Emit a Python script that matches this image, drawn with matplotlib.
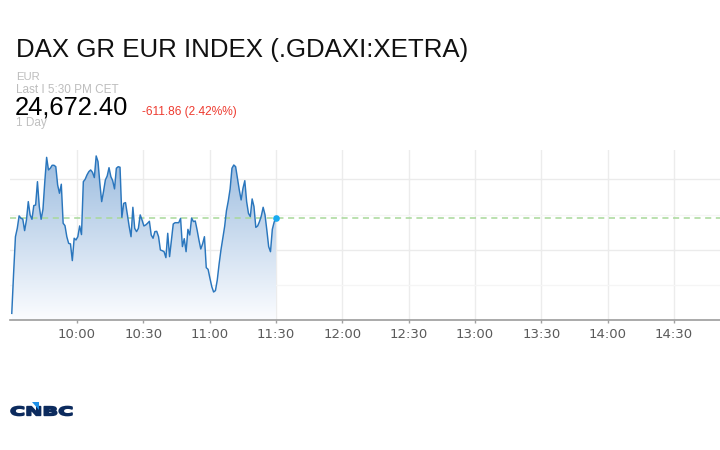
import numpy as np
import matplotlib
matplotlib.use("Agg")
import matplotlib.pyplot as plt
from matplotlib.textpath import TextPath
from matplotlib.patches import PathPatch, Polygon
from matplotlib.font_manager import FontProperties
from matplotlib.transforms import Affine2D
from matplotlib.path import Path

# ---------------- data ----------------
title = "DAX GR EUR INDEX (.GDAXI:XETRA)"
currency = "EUR"
last_label = "Last I 5:30 PM CET"
last_price = 24672.40
change_text = "-611.86 (2.42%%)"
range_label = "1 Day"

start_time = "09:30"
end_time = "11:30"
values = [24605.2, 24633.5, 24659.4, 24665.3, 24674.1, 24672.4, 24671.9, 24663.7, 24671.2, 24684.2,
          24674.8, 24671.7, 24681.4, 24681.8, 24698.3, 24680.7, 24671.7, 24678.8, 24698.3, 24715.5,
          24706.6, 24707.8, 24709.9, 24709.9, 24708.9, 24696.0, 24690.1, 24696.5, 24668.9, 24667.2,
          24659.4, 24654.7, 24654.3, 24642.5, 24658.3, 24657.1, 24659.4, 24667.0, 24660.9, 24698.3,
          24700.0, 24703.1, 24705.4, 24706.6, 24704.9, 24701.2, 24716.5, 24712.5, 24697.2, 24684.2,
          24691.3, 24699.5, 24702.3, 24708.2, 24701.9, 24699.0, 24693.2, 24707.8, 24708.9, 24708.5,
          24673.1, 24683.0, 24683.5, 24674.8, 24666.5, 24659.4, 24680.2, 24665.3, 24663.0, 24665.3,
          24674.8, 24671.2, 24667.0, 24667.7, 24668.9, 24670.3, 24660.6, 24658.3, 24663.0, 24663.2,
          24659.4, 24650.0, 24649.5, 24648.8, 24644.6, 24661.8, 24645.3, 24657.1, 24668.4, 24669.3,
          24669.3, 24669.3, 24672.4, 24652.4, 24658.0, 24648.8, 24664.6, 24660.6, 24672.6, 24670.1,
          24670.5, 24664.2, 24657.1, 24650.7, 24654.3, 24659.4, 24637.5, 24636.3, 24630.0, 24624.1,
          24620.3, 24621.3, 24628.8, 24640.1, 24650.0, 24658.3, 24666.5, 24677.8, 24684.7, 24693.2,
          24707.8, 24710.1, 24708.9, 24700.7, 24692.4, 24685.4, 24693.6, 24699.0, 24684.2, 24675.9,
          24673.6, 24686.1, 24680.7, 24666.0, 24667.0, 24670.1, 24674.1, 24680.2, 24675.0, 24664.2,
          24652.4, 24648.8, 24664.6, 24669.8, 24672.4]
tick_labels = ["10:00", "10:30", "11:00", "11:30", "12:00", "12:30",
               "13:00", "13:30", "14:00", "14:30", "15:00"]
major_levels = [24650, 24700]
minor_levels = [24625, 24675]


def to_min(s):
    h, m = s.split(":")
    return int(h) * 60 + int(m)


origin = to_min(start_time)
t_end = to_min(end_time) - origin
times = np.linspace(0.5, t_end, len(values))
tick_pos = [to_min(s) - origin for s in tick_labels]

# ---------------- figure ----------------
W, H = 720, 450
fig = plt.figure(figsize=(W / 100, H / 100), dpi=100)
fig.patch.set_facecolor("white")


def fx(px):
    return px / W


def fy(py):
    return 1 - py / H


ax = fig.add_axes([fx(10), fy(320), 750 / W, 170 / H])
ymin, ymax = 24600.5, 24720.7
xmin, xmax = -0.3, 338.9

# gridlines
ax.set_yticks(major_levels)
ax.set_yticks(minor_levels, minor=True)
ax.grid(axis="y", which="major", color="#ebebeb", lw=1.0)
ax.grid(axis="y", which="minor", color="#f5f5f5", lw=1.0)
ax.set_xticks(tick_pos)
ax.set_xticklabels(tick_labels)
ax.grid(axis="x", which="major", color="#ececec", lw=1.0)
ax.set_axisbelow(True)
ax.tick_params(axis="y", which="both", left=False, labelleft=False)
ax.tick_params(axis="x", which="major", direction="out", length=2.5, width=1,
               color="#a0a0a0", pad=3.5, labelsize=9.5, labelcolor="#5a5a5a")
for s in ["top", "left", "right"]:
    ax.spines[s].set_visible(False)
ax.spines["bottom"].set_color("#9c9c9c")
ax.spines["bottom"].set_linewidth(1.2)
for lab in ax.get_xticklabels():
    lab.set_fontfamily("DejaVu Sans")

# gradient fill under line
poly = ax.fill_between(times, values, ymin, facecolor="none", edgecolor="none")
clip = PathPatch(poly.get_paths()[0], transform=ax.transData, facecolor="none", edgecolor="none")
ax.add_patch(clip)
n = 256
t = np.linspace(0, 1, n)[:, None]
top_c = np.array([0.60, 0.73, 0.87])
bot_c = np.array([0.985, 0.99, 1.0])
rgb = bot_c + (top_c - bot_c) * t
grad = np.concatenate([rgb, np.ones((n, 1))], axis=1)[:, None, :]
im = ax.imshow(grad, extent=[times[0], times[-1], ymin, ymax], origin="lower",
               aspect="auto", zorder=1.5, interpolation="bilinear")
im.set_clip_path(clip)

# last price dashed line
ax.axhline(last_price, color="#a8d99a", lw=1.1, dashes=(4, 3), zorder=2)
# line
ax.plot(times, values, color="#2a76bd", lw=1.05, zorder=3)
ax.plot(times[-1], values[-1], "o", ms=4.8, color="#18aaf0", mec="none", zorder=4)

ax.set_xlim(xmin, xmax)
ax.set_ylim(ymin, ymax)

# ---------------- header texts ----------------
hf = "Liberation Sans"
fig.text(fx(15.5), fy(56.7), title, fontsize=18.6, family=hf, color="#111111", va="baseline")
fig.text(fx(16), fy(80), currency, fontsize=8.2, family=hf, color="#bdbdbd", va="baseline")
fig.text(fx(16), fy(92.7), last_label, fontsize=8.5, family=hf, color="#bdbdbd", va="baseline")
fig.text(fx(15), fy(115), f"{last_price:,.2f}", fontsize=18.4, family=hf, color="#000000", va="baseline")
fig.text(fx(142), fy(115), change_text, fontsize=8.6, family=hf, color="#ee3b30", va="baseline")
fig.text(fx(16), fy(125.7), range_label, fontsize=8.5, family=hf, color="#c0c0c0", va="baseline")

# ---------------- CNBC logo ----------------
fp = FontProperties(family=["DejaVu Sans"], weight="bold")
tp = TextPath((0, 0), "CNBC", size=10, prop=fp)
v = tp.vertices[tp.codes != Path.CLOSEPOLY] if tp.codes is not None else tp.vertices
lx0, lx1 = v[:, 0].min(), v[:, 0].max()
ly0, ly1 = v[:, 1].min(), v[:, 1].max()
sx = 61.0 / (lx1 - lx0)
sy = 9.0 / (ly1 - ly0)
logo_tr = (Affine2D().translate(-lx0, -ly0).scale(sx, sy).translate(11.0, H - 415.5)
           + Affine2D().scale(1 / W, 1 / H) + fig.transFigure)
fig.add_artist(PathPatch(tp, transform=logo_tr, facecolor="#0c2b5e", edgecolor="#0c2b5e",
                         lw=1.2, joinstyle="round"))
tri_tr = Affine2D().scale(1 / W, 1 / H) + fig.transFigure
fig.add_artist(Polygon([(31.5, H - 402.0), (38.5, H - 402.0), (38.5, H - 409.5)],
                       closed=True, transform=tri_tr, facecolor="#1e90e8", edgecolor="none"))

fig.savefig("out.png", dpi=100, facecolor="white")
